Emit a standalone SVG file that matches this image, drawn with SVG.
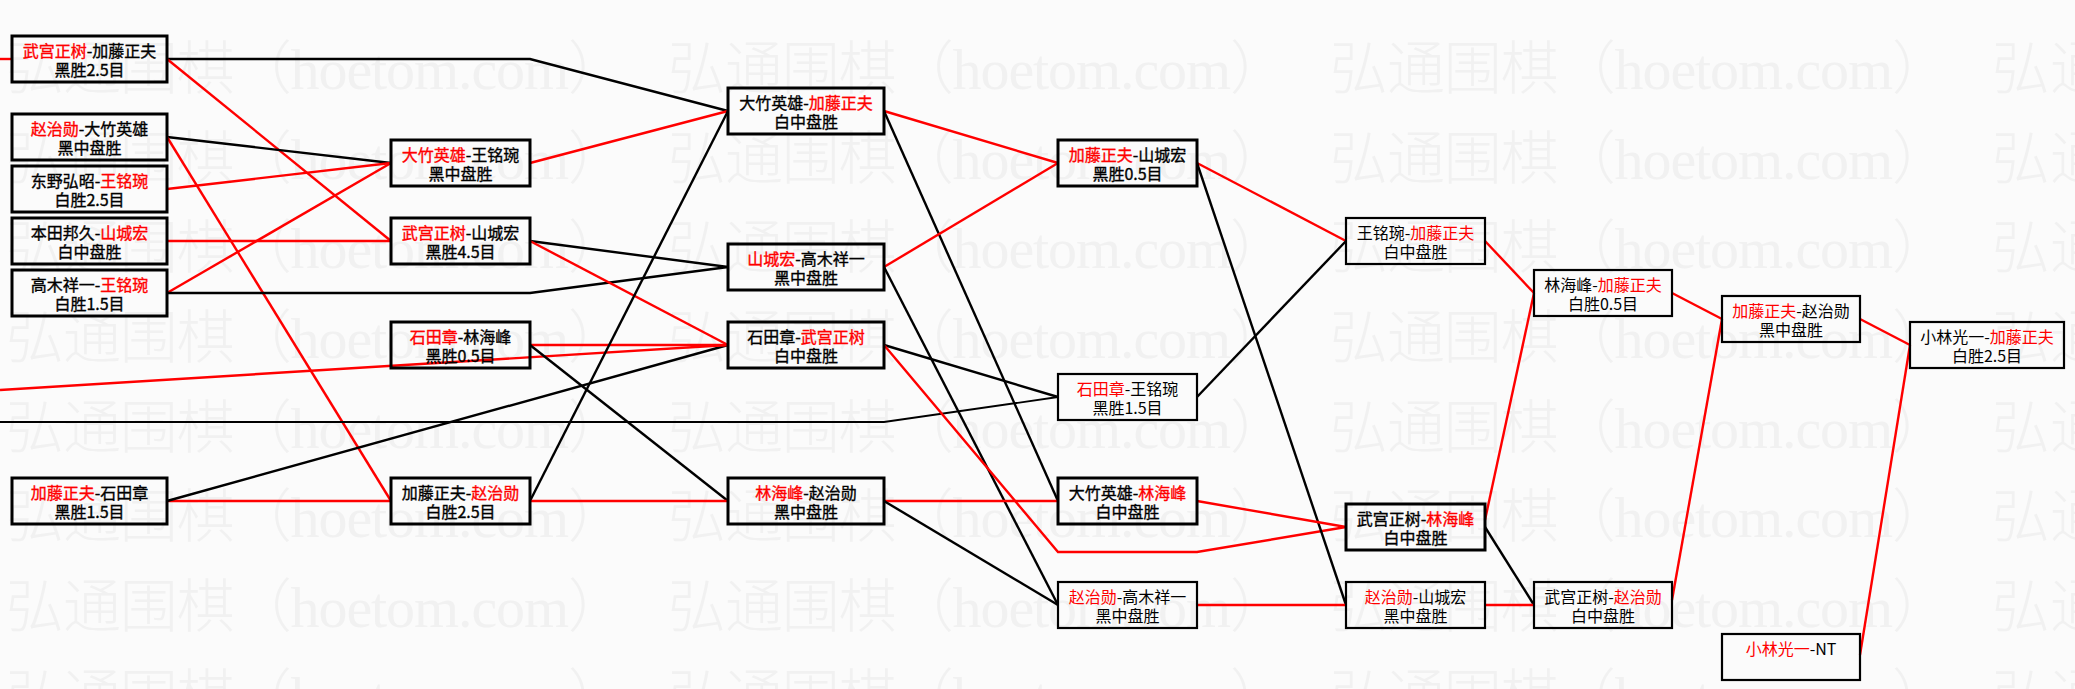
<svg xmlns="http://www.w3.org/2000/svg" width="2075" height="689" viewBox="0 0 2075 689">
<style>
.bg{fill:#fbfbfb}
.wm{font-family:'Liberation Serif','Noto Sans CJK SC',serif;font-size:58px;font-weight:300;fill:#f1f1f1}
.box{fill:none;stroke:#000;stroke-width:3}
.thin{stroke-width:2.2}
.t{font-family:'Noto Sans CJK SC',sans-serif;font-size:16px;fill:#000;text-anchor:middle}
.k .t{stroke:#000;stroke-width:0.35}
.r{fill:#f00}
.k .r{stroke:#f00}
.cr{stroke:#f00;fill:none;stroke-width:2.4}
.cb{stroke:#000;fill:none;stroke-width:2.4}
.cb.fine{stroke-width:1.8}
</style>
<rect class="bg" x="0" y="0" width="2075" height="689"/>
<g id="watermark">
<text class="wm" x="6" y="89" textLength="620" lengthAdjust="spacing">弘通围棋（hoetom.com）</text>
<text class="wm" x="668" y="89" textLength="620" lengthAdjust="spacing">弘通围棋（hoetom.com）</text>
<text class="wm" x="1330" y="89" textLength="620" lengthAdjust="spacing">弘通围棋（hoetom.com）</text>
<text class="wm" x="1992" y="89">弘通</text>
<text class="wm" x="6" y="179" textLength="620" lengthAdjust="spacing">弘通围棋（hoetom.com）</text>
<text class="wm" x="668" y="179" textLength="620" lengthAdjust="spacing">弘通围棋（hoetom.com）</text>
<text class="wm" x="1330" y="179" textLength="620" lengthAdjust="spacing">弘通围棋（hoetom.com）</text>
<text class="wm" x="1992" y="179">弘通</text>
<text class="wm" x="6" y="268" textLength="620" lengthAdjust="spacing">弘通围棋（hoetom.com）</text>
<text class="wm" x="668" y="268" textLength="620" lengthAdjust="spacing">弘通围棋（hoetom.com）</text>
<text class="wm" x="1330" y="268" textLength="620" lengthAdjust="spacing">弘通围棋（hoetom.com）</text>
<text class="wm" x="1992" y="268">弘通</text>
<text class="wm" x="6" y="358" textLength="620" lengthAdjust="spacing">弘通围棋（hoetom.com）</text>
<text class="wm" x="668" y="358" textLength="620" lengthAdjust="spacing">弘通围棋（hoetom.com）</text>
<text class="wm" x="1330" y="358" textLength="620" lengthAdjust="spacing">弘通围棋（hoetom.com）</text>
<text class="wm" x="1992" y="358">弘通</text>
<text class="wm" x="6" y="448" textLength="620" lengthAdjust="spacing">弘通围棋（hoetom.com）</text>
<text class="wm" x="668" y="448" textLength="620" lengthAdjust="spacing">弘通围棋（hoetom.com）</text>
<text class="wm" x="1330" y="448" textLength="620" lengthAdjust="spacing">弘通围棋（hoetom.com）</text>
<text class="wm" x="1992" y="448">弘通</text>
<text class="wm" x="6" y="537" textLength="620" lengthAdjust="spacing">弘通围棋（hoetom.com）</text>
<text class="wm" x="668" y="537" textLength="620" lengthAdjust="spacing">弘通围棋（hoetom.com）</text>
<text class="wm" x="1330" y="537" textLength="620" lengthAdjust="spacing">弘通围棋（hoetom.com）</text>
<text class="wm" x="1992" y="537">弘通</text>
<text class="wm" x="6" y="627" textLength="620" lengthAdjust="spacing">弘通围棋（hoetom.com）</text>
<text class="wm" x="668" y="627" textLength="620" lengthAdjust="spacing">弘通围棋（hoetom.com）</text>
<text class="wm" x="1330" y="627" textLength="620" lengthAdjust="spacing">弘通围棋（hoetom.com）</text>
<text class="wm" x="1992" y="627">弘通</text>
<text class="wm" x="6" y="717" textLength="620" lengthAdjust="spacing">弘通围棋（hoetom.com）</text>
<text class="wm" x="668" y="717" textLength="620" lengthAdjust="spacing">弘通围棋（hoetom.com）</text>
<text class="wm" x="1330" y="717" textLength="620" lengthAdjust="spacing">弘通围棋（hoetom.com）</text>
<text class="wm" x="1992" y="717">弘通</text>
</g>
<g id="connectors">
<polyline class="cr" points="0,59 12,59"/>
<polyline class="cb" points="167,59 530,59 728,111"/>
<polyline class="cr" points="167,59 391,241"/>
<polyline class="cb" points="167,137 391,163"/>
<polyline class="cr" points="167,137 391,501"/>
<polyline class="cr" points="167,189 391,163"/>
<polyline class="cr" points="167,241 391,241"/>
<polyline class="cr" points="167,293 391,163"/>
<polyline class="cb" points="167,293 530,293 728,267"/>
<polyline class="cr" points="167,501 391,501"/>
<polyline class="cb" points="167,501 728,345"/>
<polyline class="cr" points="0,390 728,345"/>
<polyline class="cb fine" points="0,422 884,422 1058,397"/>
<polyline class="cr" points="530,163 728,111"/>
<polyline class="cb" points="530,241 728,267"/>
<polyline class="cr" points="530,241 728,345"/>
<polyline class="cr" points="530,345 728,345"/>
<polyline class="cb" points="530,345 728,501"/>
<polyline class="cb" points="530,501 728,111"/>
<polyline class="cr" points="530,501 728,501"/>
<polyline class="cr" points="884,111 1058,163"/>
<polyline class="cb" points="884,111 1058,501"/>
<polyline class="cr" points="884,267 1058,163"/>
<polyline class="cb" points="884,267 1058,605"/>
<polyline class="cb" points="884,345 1058,397"/>
<polyline class="cr" points="884,345 1058,552 1197,552 1346,527"/>
<polyline class="cr" points="884,501 1058,501"/>
<polyline class="cb" points="884,501 1058,605"/>
<polyline class="cr" points="1197,163 1346,241"/>
<polyline class="cb" points="1197,163 1346,605"/>
<polyline class="cb" points="1197,397 1346,241"/>
<polyline class="cr" points="1197,501 1346,527"/>
<polyline class="cr" points="1197,605 1346,605"/>
<polyline class="cr" points="1485,241 1534,293"/>
<polyline class="cr" points="1485,520 1534,293"/>
<polyline class="cb" points="1485,527 1534,605"/>
<polyline class="cr" points="1485,605 1534,605"/>
<polyline class="cr" points="1672,293 1722,319"/>
<polyline class="cr" points="1672,600 1722,319"/>
<polyline class="cr" points="1860,319 1910,345"/>
<polyline class="cr" points="1860,655 1910,345"/>
</g>
<g id="B1" class="k"><rect class="box" x="12" y="36" width="155" height="46"/><text class="t" x="89.5" y="57"><tspan class="r">武宫正树</tspan>-加藤正夫</text><text class="t" x="89.5" y="76">黑胜2.5目</text></g>
<g id="B2" class="k"><rect class="box" x="12" y="114" width="155" height="46"/><text class="t" x="89.5" y="135"><tspan class="r">赵治勋</tspan>-大竹英雄</text><text class="t" x="89.5" y="154">黑中盘胜</text></g>
<g id="B3" class="k"><rect class="box" x="12" y="166" width="155" height="46"/><text class="t" x="89.5" y="187">东野弘昭-<tspan class="r">王铭琬</tspan></text><text class="t" x="89.5" y="206">白胜2.5目</text></g>
<g id="B4" class="k"><rect class="box" x="12" y="218" width="155" height="46"/><text class="t" x="89.5" y="239">本田邦久-<tspan class="r">山城宏</tspan></text><text class="t" x="89.5" y="258">白中盘胜</text></g>
<g id="B5" class="k"><rect class="box" x="12" y="270" width="155" height="46"/><text class="t" x="89.5" y="291">高木祥一-<tspan class="r">王铭琬</tspan></text><text class="t" x="89.5" y="310">白胜1.5目</text></g>
<g id="B6" class="k"><rect class="box" x="12" y="478" width="155" height="46"/><text class="t" x="89.5" y="499"><tspan class="r">加藤正夫</tspan>-石田章</text><text class="t" x="89.5" y="518">黑胜1.5目</text></g>
<g id="C1" class="k"><rect class="box" x="391" y="140" width="139" height="46"/><text class="t" x="460.5" y="161"><tspan class="r">大竹英雄</tspan>-王铭琬</text><text class="t" x="460.5" y="180">黑中盘胜</text></g>
<g id="C2" class="k"><rect class="box" x="391" y="218" width="139" height="46"/><text class="t" x="460.5" y="239"><tspan class="r">武宫正树</tspan>-山城宏</text><text class="t" x="460.5" y="258">黑胜4.5目</text></g>
<g id="C3" class="k"><rect class="box" x="391" y="322" width="139" height="46"/><text class="t" x="460.5" y="343"><tspan class="r">石田章</tspan>-林海峰</text><text class="t" x="460.5" y="362">黑胜0.5目</text></g>
<g id="C4" class="k"><rect class="box" x="391" y="478" width="139" height="46"/><text class="t" x="460.5" y="499">加藤正夫-<tspan class="r">赵治勋</tspan></text><text class="t" x="460.5" y="518">白胜2.5目</text></g>
<g id="D1" class="k"><rect class="box" x="728" y="88" width="156" height="46"/><text class="t" x="806" y="109">大竹英雄-<tspan class="r">加藤正夫</tspan></text><text class="t" x="806" y="128">白中盘胜</text></g>
<g id="D2" class="k"><rect class="box" x="728" y="244" width="156" height="46"/><text class="t" x="806" y="265"><tspan class="r">山城宏</tspan>-高木祥一</text><text class="t" x="806" y="284">黑中盘胜</text></g>
<g id="D3" class="k"><rect class="box" x="728" y="322" width="156" height="46"/><text class="t" x="806" y="343">石田章-<tspan class="r">武宫正树</tspan></text><text class="t" x="806" y="362">白中盘胜</text></g>
<g id="D4" class="k"><rect class="box" x="728" y="478" width="156" height="46"/><text class="t" x="806" y="499"><tspan class="r">林海峰</tspan>-赵治勋</text><text class="t" x="806" y="518">黑中盘胜</text></g>
<g id="E1" class="k"><rect class="box" x="1058" y="140" width="139" height="46"/><text class="t" x="1127.5" y="161"><tspan class="r">加藤正夫</tspan>-山城宏</text><text class="t" x="1127.5" y="180">黑胜0.5目</text></g>
<g id="E2"><rect class="box thin" x="1058" y="374" width="139" height="46"/><text class="t" x="1127.5" y="395"><tspan class="r">石田章</tspan>-王铭琬</text><text class="t" x="1127.5" y="414">黑胜1.5目</text></g>
<g id="E3" class="k"><rect class="box" x="1058" y="478" width="139" height="46"/><text class="t" x="1127.5" y="499">大竹英雄-<tspan class="r">林海峰</tspan></text><text class="t" x="1127.5" y="518">白中盘胜</text></g>
<g id="E4"><rect class="box thin" x="1058" y="582" width="139" height="46"/><text class="t" x="1127.5" y="603"><tspan class="r">赵治勋</tspan>-高木祥一</text><text class="t" x="1127.5" y="622">黑中盘胜</text></g>
<g id="F1"><rect class="box thin" x="1346" y="218" width="139" height="46"/><text class="t" x="1415.5" y="239">王铭琬-<tspan class="r">加藤正夫</tspan></text><text class="t" x="1415.5" y="258">白中盘胜</text></g>
<g id="F2" class="k"><rect class="box" x="1346" y="504" width="139" height="46"/><text class="t" x="1415.5" y="525">武宫正树-<tspan class="r">林海峰</tspan></text><text class="t" x="1415.5" y="544">白中盘胜</text></g>
<g id="F3"><rect class="box thin" x="1346" y="582" width="139" height="46"/><text class="t" x="1415.5" y="603"><tspan class="r">赵治勋</tspan>-山城宏</text><text class="t" x="1415.5" y="622">黑中盘胜</text></g>
<g id="G1"><rect class="box thin" x="1534" y="270" width="138" height="46"/><text class="t" x="1603" y="291">林海峰-<tspan class="r">加藤正夫</tspan></text><text class="t" x="1603" y="310">白胜0.5目</text></g>
<g id="G2"><rect class="box thin" x="1534" y="582" width="138" height="46"/><text class="t" x="1603" y="603">武宫正树-<tspan class="r">赵治勋</tspan></text><text class="t" x="1603" y="622">白中盘胜</text></g>
<g id="H1"><rect class="box thin" x="1722" y="296" width="138" height="46"/><text class="t" x="1791" y="317"><tspan class="r">加藤正夫</tspan>-赵治勋</text><text class="t" x="1791" y="336">黑中盘胜</text></g>
<g id="H2"><rect class="box thin" x="1722" y="634" width="138" height="46"/><text class="t" x="1791" y="655"><tspan class="r">小林光一</tspan>-NT</text></g>
<g id="I1"><rect class="box thin" x="1910" y="322" width="154" height="46"/><text class="t" x="1987" y="343">小林光一-<tspan class="r">加藤正夫</tspan></text><text class="t" x="1987" y="362">白胜2.5目</text></g>
</svg>
